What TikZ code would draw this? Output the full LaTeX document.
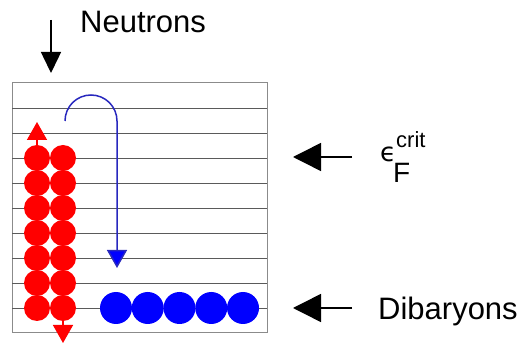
\documentclass[tikz,border=0pt]{standalone}
\usepackage{fontspec}
\setmainfont{Liberation Sans}
\newfontfamily\symfont{DejaVu Sans}
\usetikzlibrary{arrows.meta,positioning}
\definecolor{nred}{RGB}{255,0,0}
\definecolor{dblue}{RGB}{0,0,255}
\definecolor{pathblue}{RGB}{40,40,190}
\definecolor{gridgray}{RGB}{90,90,90}

\begin{document}
\begin{tikzpicture}[x=1pt, y=-1pt,
    neutron/.style={circle, fill=nred, minimum size=26pt, inner sep=0pt},
    dibaryon/.style={circle, fill=dblue, minimum size=32pt, inner sep=0pt},
    pointer/.style={line width=1.5pt, -{Triangle[length=28pt,width=28pt]}},
    lbl/.style={font=\fontsize{31}{31}\selectfont, anchor=base west, inner sep=0pt}
]
\useasboundingbox (0,0) rectangle (522,344);

% levels
\draw[gridgray!70, line width=1pt] (12,83) rectangle (267,333);
\foreach \k in {1,...,9}
  \draw[gridgray, line width=0.8pt] (12,83+25*\k) -- (267,83+25*\k);

% neutron pairs
\foreach \r in {0,...,6}{
  \node[neutron] (na\r) at (37,158+25*\r) {};
  \node[neutron] (nb\r) at (63,158+25*\r) {};
}
\coordinate (uptip) at (37,122);
\coordinate (downtip) at (63,343);
\draw[nred, line width=1.5pt, -{Triangle[length=18pt,width=20pt]}] (na0.north) -- (uptip);
\draw[nred, line width=1.5pt, -{Triangle[length=18pt,width=20pt]}] (nb6.south) -- (downtip);

% dibaryons
\foreach \i in {1,...,5}
  \node[dibaryon] (db\i) at (84.25+31.75*\i,308) {};

% hop into the dibaryon level
\coordinate (hop) at (65,121);
\coordinate (land) at (117,268);
\draw[pathblue, line width=1.5pt, -{Triangle[length=18pt,width=20pt,fill=dblue]}]
  (hop) arc[start angle=180, end angle=0, radius=26pt] -- (land);

% labels
\coordinate (nin) at (51,20);
\coordinate (ndrop) at (51,73);
\draw[line width=1.5pt, -{Triangle[length=21pt,width=20pt]}] (nin) -- (ndrop);
\node[lbl] (neutrons) at (80,33) {Neutrons};

\node[inner sep=0pt, anchor=base west, font=\symfont\fontsize{26}{26}\selectfont] (eps) at (380,162) {ϵ};
\node[inner sep=0pt, anchor=base west, font=\fontsize{28}{28}\selectfont] (fermi) at (393,183) {F};
\node[inner sep=0pt, anchor=base west, font=\fontsize{22}{22}\selectfont] (crit) at (396,148) {crit};
\coordinate (etail) at (352,157);
\coordinate (etip) at (293,157);
\draw[pointer] (etail) -- (etip);

\node[lbl] (dibaryons) at (378,320) {Dibaryons};
\coordinate (dtail) at (352,308);
\coordinate (dtip) at (293,308);
\draw[pointer] (dtail) -- (dtip);
\end{tikzpicture}
\end{document}
